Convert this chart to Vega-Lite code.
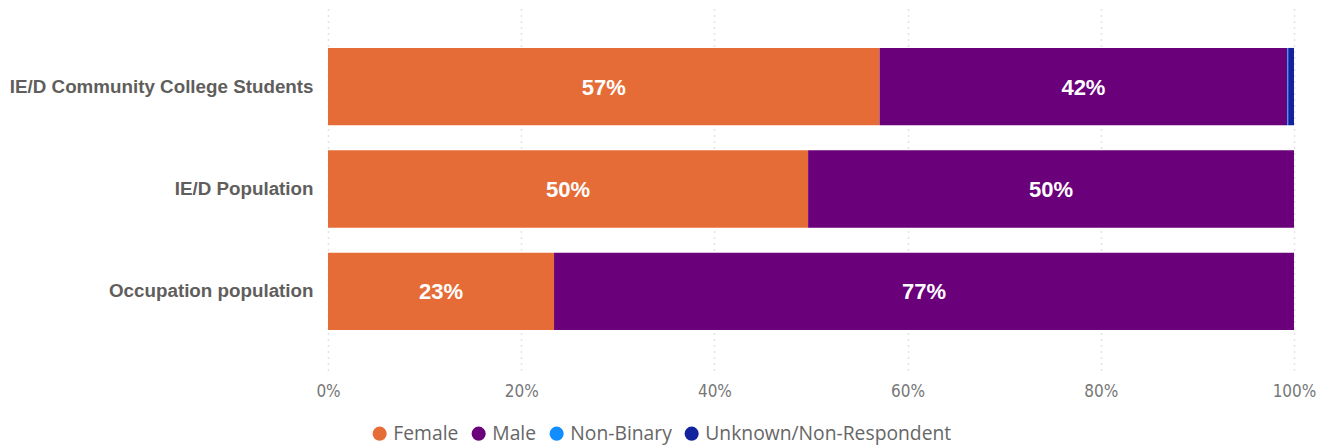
{
  "$schema": "https://vega.github.io/schema/vega-lite/v6.json",
  "width": 966,
  "height": 362,
  "autosize": {"type": "none"},
  "padding": {"left": 328, "top": 8, "right": 36, "bottom": 76},
  "background": "white",
  "config": {"view": {"stroke": null}},
  "data": {
    "values": [
      {"group": "IE/D Community College Students", "gender": "Female", "value": 0.571},
      {"group": "IE/D Community College Students", "gender": "Male", "value": 0.422},
      {"group": "IE/D Community College Students", "gender": "Non-Binary", "value": 0.001},
      {"group": "IE/D Community College Students", "gender": "Unknown/Non-Respondent", "value": 0.006},
      {"group": "IE/D Population", "gender": "Female", "value": 0.497},
      {"group": "IE/D Population", "gender": "Male", "value": 0.503},
      {"group": "Occupation population", "gender": "Female", "value": 0.234},
      {"group": "Occupation population", "gender": "Male", "value": 0.766}
    ]
  },
  "encoding": {
    "y": {
      "field": "group",
      "type": "nominal",
      "sort": ["IE/D Community College Students", "IE/D Population", "Occupation population"],
      "scale": {"paddingInner": 0.245, "paddingOuter": 0.39},
      "axis": {
        "title": null,
        "domain": false,
        "ticks": false,
        "labelLimit": 0,
        "labelFont": "Liberation Sans",
        "labelFontWeight": "bold",
        "labelFontSize": 18.8,
        "labelColor": "#605E5C",
        "labelPadding": 15
      }
    }
  },
  "layer": [
    {
      "mark": {"type": "bar"},
      "encoding": {
        "x": {
          "field": "value",
          "type": "quantitative",
          "stack": "zero",
          "scale": {"domain": [0, 1]},
          "axis": {
            "title": null,
            "format": ".0%",
            "values": [0, 0.2, 0.4, 0.6, 0.8, 1],
            "labelOverlap": false,
            "labelFlush": false,
            "domain": false,
            "ticks": false,
            "grid": true,
            "gridColor": "#C8C8C8",
            "gridDash": [1, 5],
            "gridWidth": 1.5,
            "labelFont": "DejaVu Sans Condensed, Liberation Sans",
            "labelFontSize": 17,
            "labelColor": "#777777",
            "labelPadding": 13
          }
        },
        "color": {
          "field": "gender",
          "type": "nominal",
          "scale": {
            "domain": ["Female", "Male", "Non-Binary", "Unknown/Non-Respondent"],
            "range": ["#E66C37", "#6B007B", "#118DFF", "#12239E"]
          },
          "legend": {
            "title": null,
            "orient": "none",
            "direction": "horizontal",
            "legendX": 42,
            "legendY": 416,
            "symbolType": "circle",
            "symbolSize": 200,
            "symbolOpacity": 1,
            "symbolStrokeWidth": 0,
            "labelLimit": 0,
            "labelFont": "Open Sans",
            "labelFontSize": 19.3,
            "labelColor": "#666666",
            "labelOffset": 4,
            "columnPadding": 10
          }
        }
      }
    },
    {
      "transform": [
        {"stack": "value", "groupby": ["group"], "sort": [{"field": "gender"}], "as": ["x0", "x1"]},
        {"filter": "datum.value > 0.05"},
        {"calculate": "(datum.x0 + datum.x1) / 2", "as": "xmid"}
      ],
      "mark": {"type": "text", "color": "white", "font": "Liberation Sans", "fontWeight": "bold", "fontSize": 22, "dy": 1},
      "encoding": {
        "x": {"field": "xmid", "type": "quantitative"},
        "text": {"field": "value", "type": "quantitative", "format": ".0%"}
      }
    }
  ]
}
